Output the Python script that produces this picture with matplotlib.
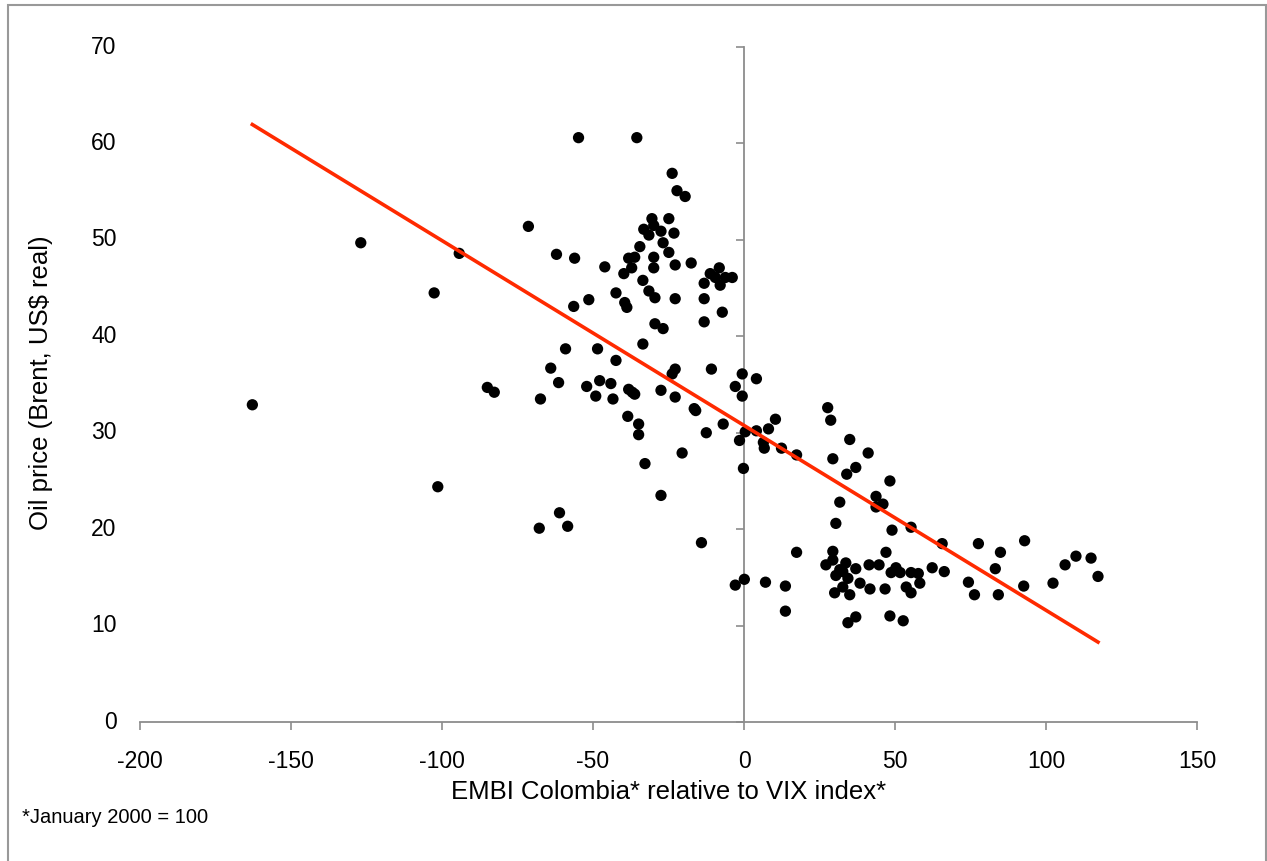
import matplotlib.pyplot as plt
import matplotlib.patches as patches
import matplotlib.transforms as transforms
import numpy as np

plt.rcParams['font.family'] = ['Liberation Sans', 'DejaVu Sans']

# EMBI Colombia relative to VIX (x) vs Brent oil price (y)
embi_vix = [
  -162.8, -126.9, -102.6, -101.4, -94.3, -85.0, -82.7, -71.4, -67.8, -67.4,
  -64.0, -62.1, -61.4, -61.1, -59.1, -58.4, -56.4, -56.1, -54.8, -52.1,
  -51.4, -49.1, -48.5, -47.8, -46.1, -44.1, -43.4, -42.4, -42.4, -39.8,
  -39.5, -38.8, -38.5, -38.2, -38.2, -37.2, -37.0, -36.2, -36.2, -35.5,
  -34.9, -34.9, -34.5, -33.5, -33.5, -33.2, -32.8, -31.5, -31.5, -30.5,
  -29.9, -29.9, -29.9, -29.5, -29.5, -27.5, -27.5, -27.5, -26.8, -26.8,
  -24.9, -24.9, -23.8, -23.8, -23.2, -22.8, -22.8, -22.8, -22.8, -22.2,
  -20.5, -19.5, -17.5, -16.5, -16.0, -14.1, -13.2, -13.2, -13.2, -12.5,
  -11.2, -10.8, -9.5, -8.2, -7.9, -7.2, -6.9, -6.2, -3.9, -2.9,
  -2.9, -1.5, -0.6, -0.6, -0.2, 0.1, 0.4,
  4.1, 4.1, 6.4, 6.7, 7.1, 8.1, 10.4, 12.4, 13.7, 13.7,
  17.4, 17.4, 27.1, 27.7, 28.7, 29.4, 29.4, 29.4, 30.0, 30.4,
  30.4, 31.7, 31.7, 32.7, 32.7, 33.7, 34.0, 34.4, 34.4, 35.0,
  35.0, 37.0, 37.0, 37.0, 38.4, 41.1, 41.4, 41.7, 43.7, 43.7,
  44.7, 46.0, 46.7, 47.0, 48.3, 48.3, 48.7, 49.0, 50.3, 51.7,
  52.7, 53.7, 55.3, 55.3, 55.3, 57.7, 58.2, 62.3, 65.6, 66.3,
  74.3, 76.3, 77.6, 83.2, 84.2, 84.9, 92.6, 92.9, 102.3, 106.3,
  109.9, 114.9, 117.2,
]
oil_price = [
  32.9, 49.7, 44.5, 24.4, 48.6, 34.7, 34.2, 51.4, 20.1, 33.5,
  36.7, 48.5, 35.2, 21.7, 38.7, 20.3, 43.1, 48.1, 60.6, 34.8,
  43.8, 33.8, 38.7, 35.4, 47.2, 35.1, 33.5, 44.5, 37.5, 46.5,
  43.5, 43.0, 31.7, 48.1, 34.5, 47.1, 34.2, 48.2, 34.0, 60.6,
  30.9, 29.8, 49.3, 45.8, 39.2, 51.1, 26.8, 50.5, 44.7, 52.2,
  51.5, 48.2, 47.1, 44.0, 41.3, 50.9, 34.4, 23.5, 49.7, 40.8,
  52.2, 48.7, 56.9, 36.1, 50.7, 47.4, 43.9, 36.6, 33.7, 55.1,
  27.9, 54.5, 47.6, 32.5, 32.3, 18.6, 45.5, 43.9, 41.5, 30.0,
  46.5, 36.6, 46.1, 47.1, 45.3, 42.5, 30.9, 46.1, 46.1, 34.8,
  14.2, 29.2, 36.1, 33.8, 26.3, 14.8, 30.1,
  35.6, 30.2, 29.0, 28.4, 14.5, 30.4, 31.4, 28.4, 14.1, 11.5,
  27.7, 17.6, 16.3, 32.6, 31.3, 27.3, 17.7, 16.8, 13.4, 20.6,
  15.2, 22.8, 15.8, 14.0, 15.6, 16.5, 25.7, 14.9, 10.3, 29.3,
  13.2, 26.4, 15.9, 10.9, 14.4, 27.9, 16.3, 13.8, 23.4, 22.3,
  16.3, 22.6, 13.8, 17.6, 25.0, 11.0, 15.5, 19.9, 16.0, 15.5,
  10.5, 14.0, 20.2, 15.5, 13.4, 15.4, 14.4, 16.0, 18.5, 15.6,
  14.5, 13.2, 18.5, 15.9, 13.2, 17.6, 14.1, 18.8, 14.4, 16.3,
  17.2, 17.0, 15.1,
]

x_ticks = [-200, -150, -100, -50, 0, 50, 100, 150]
y_ticks = [0, 10, 20, 30, 40, 50, 60, 70]

x = np.array(embi_vix)
y = np.array(oil_price)

fig = plt.figure(figsize=(12.67, 8.61), dpi=100)
ax = fig.add_axes([0.1105, 0.1614, 0.8343, 0.7840])

ax.scatter(x, y, s=66, color='black', edgecolors='none', zorder=3)

# linear trend line over the data range
slope, intercept = np.polyfit(x, y, 1)
xs = np.array([x.min(), x.max()])
ax.plot(xs, slope * xs + intercept, color='#ff2a00', linewidth=2.6, zorder=4)

ax.set_xlim(-200, 150)
ax.set_ylim(0, 70)

axis_grey = '#8c8c8c'
for side in ['top', 'right']:
  ax.spines[side].set_visible(False)
ax.spines['bottom'].set_color(axis_grey)
ax.spines['bottom'].set_linewidth(1.3)
ax.spines['left'].set_position(('data', 0))
ax.spines['left'].set_color(axis_grey)
ax.spines['left'].set_linewidth(1.3)

ax.set_xticks(x_ticks)
ax.set_xticklabels([str(v) for v in x_ticks], fontsize=16.5)
ax.set_yticks(y_ticks)
ax.tick_params(axis='x', direction='out', length=6, width=1.2, color=axis_grey, pad=14)
ax.tick_params(axis='y', direction='out', length=6, width=1.2, color=axis_grey, labelleft=False)

# value labels for the y axis sit at the left edge of the plot
trans = transforms.blended_transform_factory(ax.transAxes, ax.transData)
for v in y_ticks:
  ax.text(-0.022, v, str(v), transform=trans, ha='right', va='center', fontsize=16.5)

ax.set_xlabel('EMBI Colombia* relative to VIX index*', fontsize=18.5, labelpad=5)
fig.text(0.032, 0.555, 'Oil price (Brent, US$ real)', rotation=90, ha='center', va='center', fontsize=18.5)
fig.text(0.0175, 0.05, '*January 2000 = 100', ha='left', va='center', fontsize=14.5)

# outer frame
frame = patches.Rectangle((8 / 1267, -0.02), 1258 / 1267, 1.02 - 5 / 861,
                          transform=fig.transFigure, fill=False,
                          edgecolor='#999999', linewidth=1.5)
fig.add_artist(frame)

fig.savefig('out.png', dpi=100)
